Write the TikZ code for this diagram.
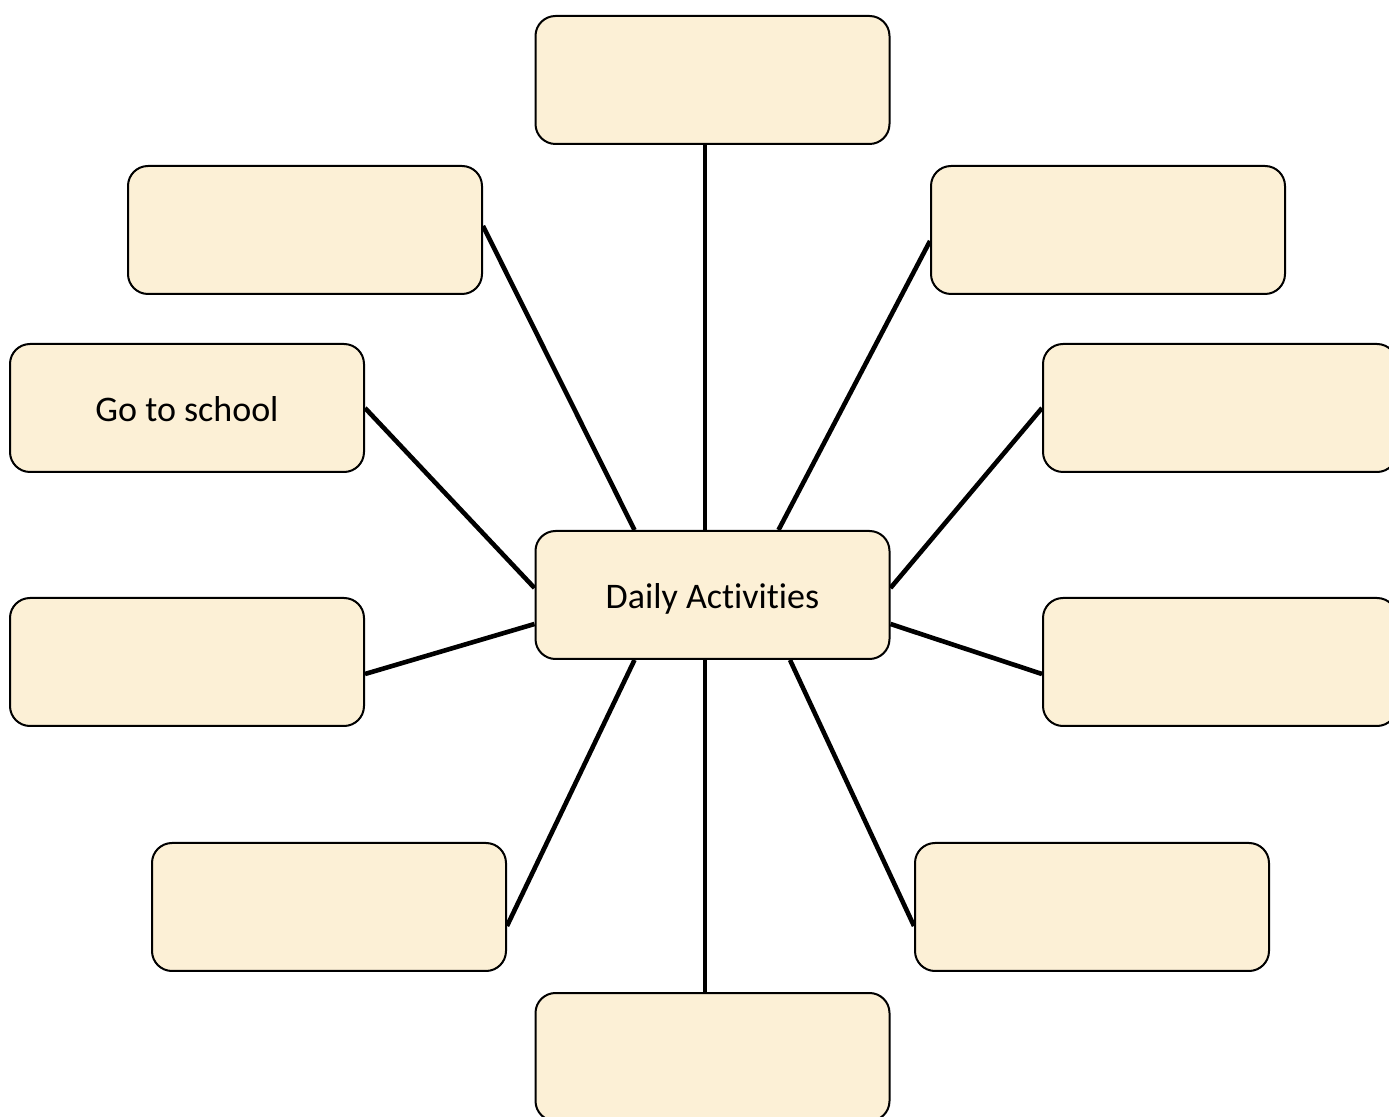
\documentclass[tikz,border=0pt]{standalone}
\usepackage{fontspec}
\setmainfont[Ligatures=NoCommon]{Carlito}
\usepackage{xcolor}
\usepackage{tikz}
\usetikzlibrary{backgrounds}
\definecolor{parchment}{RGB}{252,240,214}

\begin{document}
\begin{tikzpicture}[x=0.5pt, y=-0.5pt,
    card/.style={draw=black, line width=1pt, fill=parchment, rounded corners=10pt,
      minimum width=177pt, minimum height=64pt, text height=17pt, text depth=3pt,
      font=\fontsize{18}{22}\selectfont},
    spoke/.style={line width=2.3pt, black}]
  \useasboundingbox (0,0) rectangle (1389,1117);

  % Centre
  \node[card] (c) at (712.5,595) {Daily Activities};

  % Outer cards
  \node[card] (top) at (712.5,80) {};
  \node[card] (ul) at (305,230) {};
  \node[card] (ur) at (1108,230) {};
  \node[card] (gs) at (187,408) {Go to school};
  \node[card] (rm) at (1220,408) {};
  \node[card] (ll) at (187,662) {};
  \node[card] (rl) at (1220,662) {};
  \node[card] (bl) at (329,907) {};
  \node[card] (br) at (1092,907) {};
  \node[card] (bot) at (712.5,1057) {};

  % Spokes
  \begin{scope}[on background layer]
    \draw[spoke] ([xshift=-3.75pt]top.south) -- ([xshift=-3.75pt]c.north);
    \draw[spoke] ([yshift=2pt]ul.east) -- ([xshift=-39pt]c.north);
    \draw[spoke] ([yshift=-5.5pt]ur.west) -- ([xshift=33pt]c.north);
    \draw[spoke] (gs.east) -- ([yshift=3.5pt]c.west);
    \draw[spoke] (rm.west) -- ([yshift=3.5pt]c.east);
    \draw[spoke] ([yshift=-6pt]ll.east) -- ([yshift=-14.5pt]c.west);
    \draw[spoke] ([yshift=-6pt]rl.west) -- ([yshift=-14.5pt]c.east);
    \draw[spoke] ([yshift=-9.5pt]bl.east) -- ([xshift=-39pt]c.south);
    \draw[spoke] ([yshift=-9.5pt]br.west) -- ([xshift=38.75pt]c.south);
    \draw[spoke] ([xshift=-3.75pt]c.south) -- ([xshift=-3.75pt]bot.north);
  \end{scope}
\end{tikzpicture}
\end{document}
